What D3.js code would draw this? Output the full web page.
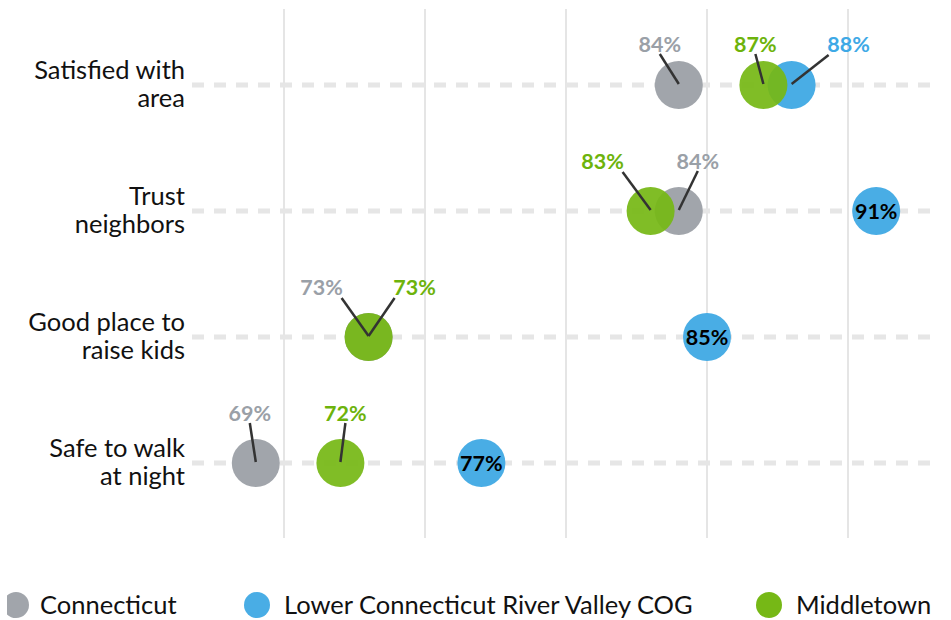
<!DOCTYPE html>
<html>
<head>
<meta charset="utf-8">
<script src="https://cdn.jsdelivr.net/npm/d3@7"></script>
<style>
  html, body { margin: 0; padding: 0; background: #fff; }
  svg { display: block; font-family: "Source Sans Pro", Lato, "Noto Sans", sans-serif; }
</style>
</head>
<body>
<svg id="chart" width="951" height="620"></svg>
<script>
// ---- Data ----
const categories = [
  ["Satisfied with", "area"],
  ["Trust", "neighbors"],
  ["Good place to", "raise kids"],
  ["Safe to walk", "at night"]
];
const seriesNames = ["Connecticut", "Lower Connecticut River Valley COG", "Middletown"];
const connecticut = [84, 84, 73, 69];
const lowerCRV = [88, 91, 85, 77];
const middletown = [87, 83, 73, 72];
const gridTicks = [70, 75, 80, 85, 90];

// label placement (offset of label text center from the dot, px); null = inside dot
const labelOffsets = {
  "Connecticut": [[-19, -41], [19, -50], [-47, -50], [-6, -50]],
  "Lower Connecticut River Valley COG": [[57, -41], null, null, null],
  "Middletown": [[-8, -41], [-48, -50], [46, -50], [5, -50]]
};

const colors = {
  "Connecticut": "#a1a5ab",
  "Lower Connecticut River Valley COG": "#49ade5",
  "Middletown": "#76b816"
};
const labelColors = {
  "Connecticut": "#9aa0a7",
  "Lower Connecticut River Valley COG": "#3ea9e6",
  "Middletown": "#6db30b"
};

const series = [
  { name: seriesNames[0], values: connecticut },
  { name: seriesNames[1], values: lowerCRV },
  { name: seriesNames[2], values: middletown }
];

// ---- Layout ----
const svg = d3.select("#chart");
const x = d3.scaleLinear().domain([70, 90]).range([284, 848]);
const y = d3.scalePoint().domain(d3.range(categories.length)).range([85, 463]);
const r = 24;

// vertical grid lines
svg.append("g").selectAll("line").data(gridTicks).join("line")
  .attr("x1", d => x(d)).attr("x2", d => x(d))
  .attr("y1", 9).attr("y2", 538)
  .attr("stroke", "#dcdcdc").attr("stroke-width", 1.5);

// dashed row lines
svg.append("g").selectAll("line").data(categories).join("line")
  .attr("x1", 192).attr("x2", 940)
  .attr("y1", (d, i) => y(i)).attr("y2", (d, i) => y(i))
  .attr("stroke", "#e6e6e6").attr("stroke-width", 5)
  .attr("stroke-dasharray", "12,10");

// category labels
const cat = svg.append("g").selectAll("text").data(categories).join("text")
  .attr("x", 185).attr("y", (d, i) => y(i))
  .attr("text-anchor", "end")
  .attr("font-size", 25.5).attr("fill", "#111");
cat.selectAll("tspan").data(d => d).join("tspan")
  .attr("x", 185)
  .attr("dy", (d, j) => j === 0 ? "-0.22em" : "1.1em")
  .text(d => d);

// dots
series.forEach(s => {
  const g = svg.append("g");
  g.selectAll("circle").data(s.values).join("circle")
    .attr("cx", d => x(d)).attr("cy", (d, i) => y(i)).attr("r", r)
    .attr("fill", colors[s.name])
    .attr("fill-opacity", s.name === "Middletown" ? 0.93 : 1);
});

// labels + leader lines
series.forEach(s => {
  s.values.forEach((v, i) => {
    const off = labelOffsets[s.name][i];
    const cx = x(v), cy = y(i);
    if (!off) {
      svg.append("text")
        .attr("x", cx).attr("y", cy).attr("dy", "0.35em")
        .attr("text-anchor", "middle")
        .attr("font-size", 21.5).attr("font-weight", 700)
        .attr("fill", "#000")
        .text(v + "%");
      return;
    }
    const tx = cx + off[0], ty = cy + off[1];
    const dx = off[0];
    let ex = tx, ey = ty + 10;
    if (Math.abs(dx) > 30) { ex = tx - Math.sign(dx) * 20; ey = ty + 11; }
    svg.append("line")
      .attr("x1", cx).attr("y1", cy - 1)
      .attr("x2", ex).attr("y2", ey)
      .attr("stroke", "#333").attr("stroke-width", 2.5);
    svg.append("text")
      .attr("x", tx).attr("y", ty).attr("dy", "0.35em")
      .attr("text-anchor", "middle")
      .attr("font-size", 21.5).attr("font-weight", 700)
      .attr("fill", labelColors[s.name])
      .text(v + "%");
  });
});

// legend
const defs = svg.append("defs");
defs.append("clipPath").attr("id", "legclip")
  .append("rect").attr("x", 7).attr("y", 580).attr("width", 944).attr("height", 40);
const legendX = [[16, 40], [257, 284], [769, 796]];
const leg = svg.append("g").attr("clip-path", "url(#legclip)");
seriesNames.forEach((n, i) => {
  leg.append("circle").attr("cx", legendX[i][0]).attr("cy", 605).attr("r", 13)
    .attr("fill", colors[n]);
  leg.append("text").attr("x", legendX[i][1]).attr("y", 605).attr("dy", "0.35em")
    .attr("font-size", 25.5).attr("fill", "#111").text(n);
});
</script>
</body>
</html>
